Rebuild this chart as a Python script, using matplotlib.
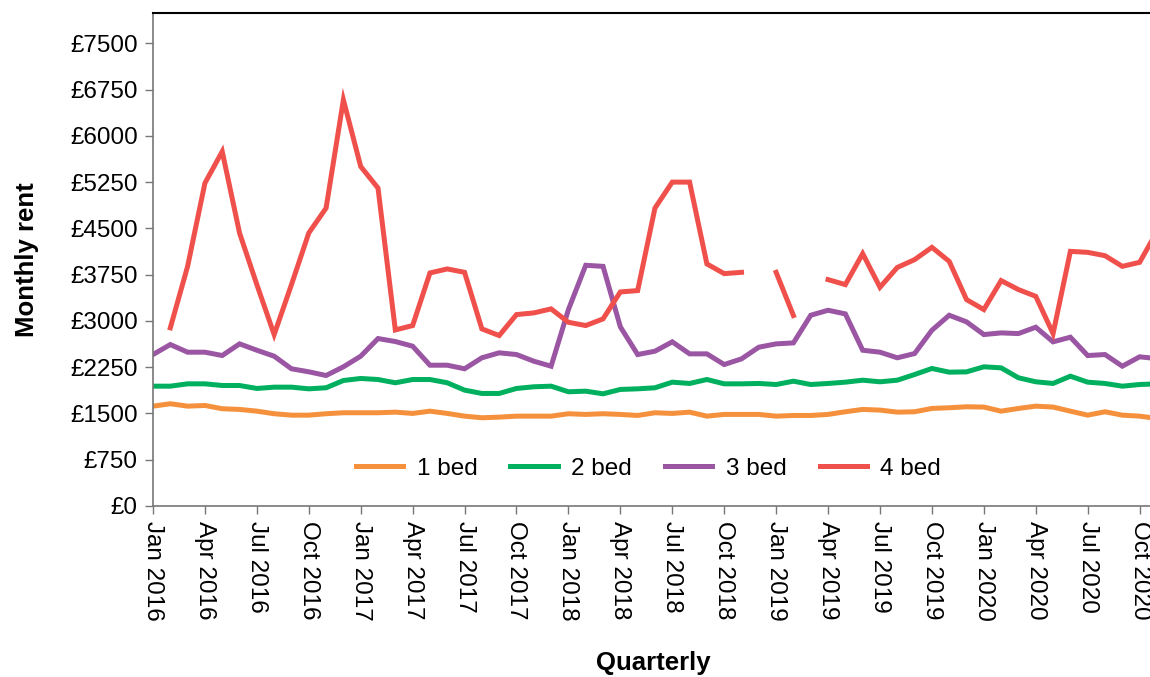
import matplotlib
matplotlib.use("Agg")
import matplotlib.pyplot as plt
import numpy as np

plt.rcParams['font.family'] = ['Liberation Sans', 'DejaVu Sans']

# monthly values, Jan 2016 .. Nov 2020
months = [f"{m} {y}" for y in range(2016, 2021)
          for m in ["Jan", "Feb", "Mar", "Apr", "May", "Jun",
                    "Jul", "Aug", "Sep", "Oct", "Nov", "Dec"]][:59]

one_bed = [1619, 1658, 1619, 1630, 1577, 1566, 1538, 1496, 1473, 1473, 1496, 1512,
           1512, 1512, 1522, 1501, 1538, 1501, 1457, 1431, 1441, 1457, 1457, 1457,
           1496, 1485, 1496, 1485, 1468, 1512, 1501, 1522, 1457, 1485, 1485, 1485,
           1457, 1468, 1468, 1485, 1528, 1566, 1555, 1522, 1528, 1582, 1593, 1609,
           1604, 1538, 1582, 1619, 1604, 1538, 1473, 1528, 1473, 1457, 1420]

two_bed = [1943, 1943, 1981, 1981, 1954, 1954, 1906, 1927, 1927, 1900, 1917, 2035,
           2068, 2051, 1998, 2051, 2051, 1998, 1879, 1825, 1825, 1906, 1933, 1943,
           1852, 1862, 1819, 1890, 1900, 1917, 2008, 1987, 2051, 1981, 1981, 1987,
           1970, 2024, 1970, 1987, 2008, 2040, 2014, 2040, 2132, 2230, 2170, 2175,
           2257, 2240, 2079, 2014, 1987, 2105, 2008, 1987, 1943, 1970, 1980]

three_bed = [2456, 2618, 2494, 2494, 2440, 2629, 2526, 2429, 2225, 2176, 2116, 2257,
             2429, 2715, 2667, 2591, 2283, 2283, 2225, 2403, 2484, 2456, 2348, 2267,
             3185, 3903, 3886, 2905, 2456, 2510, 2662, 2467, 2467, 2294, 2386, 2575,
             2629, 2645, 3093, 3174, 3115, 2526, 2494, 2403, 2472, 2850, 3093, 2986,
             2780, 2807, 2796, 2899, 2662, 2737, 2440, 2456, 2267, 2419, 2390]

nan = np.nan
four_bed = [nan, 2889, 3886, 5236, 5748, 4427, 3590, 2780, 3590, 4427, 4831, 6585,
            5505, 5155, 2855, 2926, 3779, 3844, 3789, 2872, 2764, 3104, 3131, 3196,
            2979, 2926, 3034, 3471, 3493, 4831, 5252, 5252, 3925, 3768, 3789, nan,
            3789, 3088, nan, 3671, 3590, 4092, 3547, 3868, 3995, 4194, 3967, 3347,
            3185, 3655, 3509, 3400, 2796, 4129, 4113, 4059, 3886, 3951, 4450]

series = ["1 bed", "2 bed", "3 bed", "4 bed"]
colors = ["#f5913c", "#00b05f", "#9a55a3", "#f0504b"]

fig = plt.figure(figsize=(11.5, 6.77), dpi=100)
ax = fig.add_axes([153 / 1150, 1 - 506 / 677, 1 - 153 / 1150, 493 / 677])

x = np.arange(len(months))
for name, vals, c in zip(series, [one_bed, two_bed, three_bed, four_bed], colors):
    ax.plot(x, vals, color=c, lw=3.6, label=name, solid_joinstyle='miter')

ax.set_xlim(0, 57.6)
ax.set_ylim(0, 7994)

yt = np.arange(0, 7501, 750)
ax.set_yticks(yt)
ax.set_yticklabels([f"£{v}" for v in yt], fontsize=17.5)
ax.set_xticks(x[::3][:20])
ax.set_xticklabels(months[::3][:20], rotation=-90, fontsize=17.5, ha='center', va='top')

for s in ["left", "bottom"]:
    ax.spines[s].set_color("#777777")
    ax.spines[s].set_linewidth(1.2)
ax.spines["right"].set_visible(False)
ax.spines["top"].set_color("black")
ax.spines["top"].set_linewidth(1.5)
ax.tick_params(axis='both', color="#777777", length=6, width=1.0, pad=5)

ax.set_ylabel("Monthly rent", fontsize=18.5, fontweight='bold', va='center')
ax.yaxis.set_label_coords(-0.126, 0.5)
ax.set_xlabel("Quarterly", fontsize=18.5, fontweight='bold', va='center')
ax.xaxis.set_label_coords(0.502, -0.318)

ax.legend(loc='center', bbox_to_anchor=(0.497, 0.076), ncol=4, frameon=False,
          fontsize=17.5, handlelength=1.95, columnspacing=1.36, handletextpad=0.55)

fig.savefig("out.png", dpi=100)
